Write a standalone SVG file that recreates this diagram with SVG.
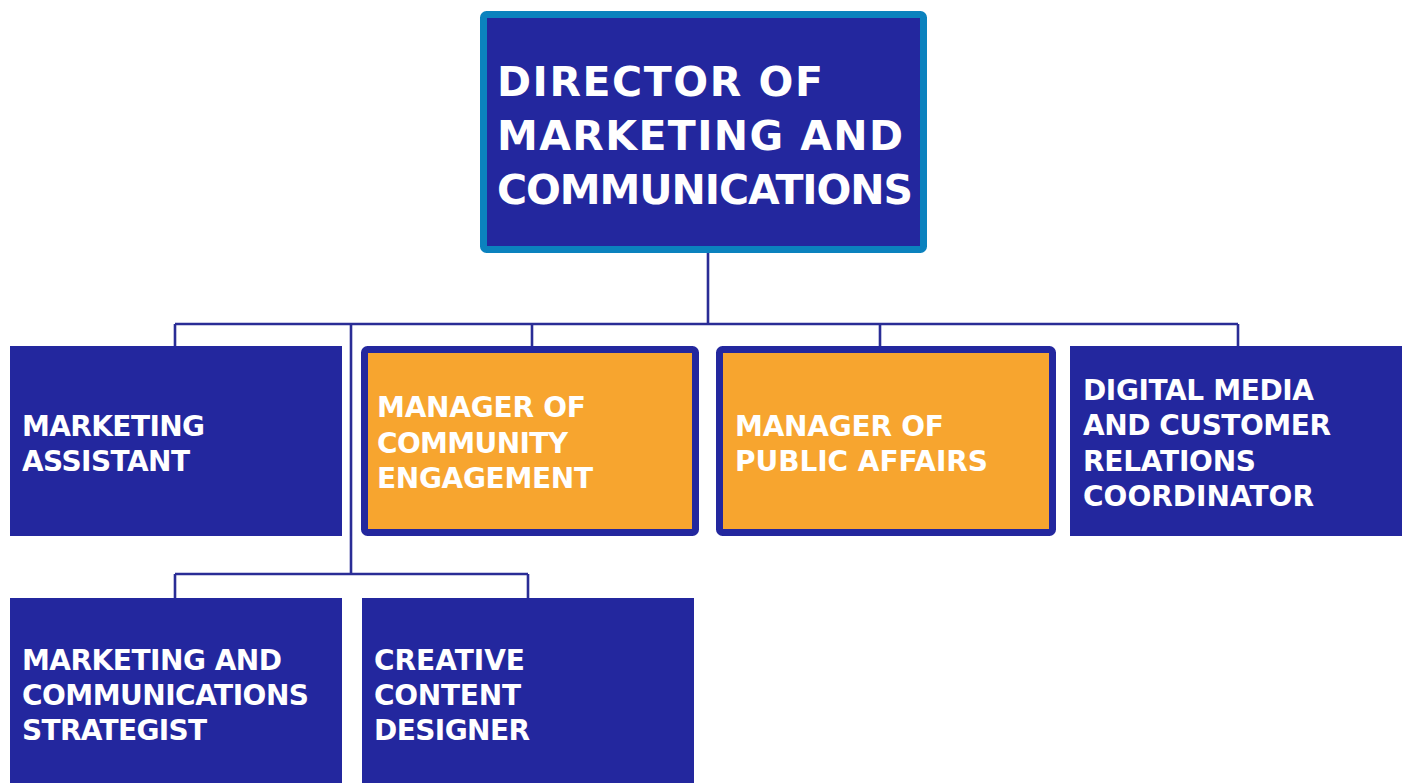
<svg xmlns="http://www.w3.org/2000/svg" width="1406" height="783" viewBox="0 0 1406 783">
<style>
.conn{stroke:#2a2d96;stroke-width:2.6;fill:none}
.navy{fill:#23279e}
.mgr{fill:#f7a52f;stroke:#23279e;stroke-width:7}
.top{fill:#23279e;stroke:#0b82be;stroke-width:7}
text{font-family:"DejaVu Sans","Liberation Sans",sans-serif;font-weight:bold;fill:#ffffff}
.t{font-size:28px}
.h{font-size:41px}
</style>
<rect width="1406" height="783" fill="#ffffff"/>
<g id="connectors">
<path class="conn" d="M708,253 V324 M175,324 H1238 M175,324 V346 M532,324 V346 M880,324 V346 M1238,324 V346"/>
<path class="conn" d="M351,324 V574 M175,574 H528 M175,574 V598 M528,574 V598"/>
</g>
<g id="director">
<rect class="top" x="483.5" y="14.5" width="440" height="235" rx="3"/>
<text class="h" x="497" y="96" textLength="326" lengthAdjust="spacing">DIRECTOR OF</text>
<text class="h" x="497" y="150" textLength="406" lengthAdjust="spacing">MARKETING AND</text>
<text class="h" x="497" y="204" textLength="416" lengthAdjust="spacing">COMMUNICATIONS</text>
</g>
<g id="marketing-assistant">
<rect class="navy" x="10" y="346" width="332" height="190"/>
<text class="t" x="22" y="436" textLength="183" lengthAdjust="spacing">MARKETING</text>
<text class="t" x="22" y="471" textLength="168" lengthAdjust="spacing">ASSISTANT</text>
</g>
<g id="manager-community">
<rect class="mgr" x="364.5" y="349.5" width="331" height="183" rx="3"/>
<text class="t" x="377" y="417" textLength="209" lengthAdjust="spacing">MANAGER OF</text>
<text class="t" x="377" y="453" textLength="191" lengthAdjust="spacing">COMMUNITY</text>
<text class="t" x="377" y="488" textLength="216" lengthAdjust="spacing">ENGAGEMENT</text>
</g>
<g id="manager-public-affairs">
<rect class="mgr" x="719.5" y="349.5" width="333" height="183" rx="3"/>
<text class="t" x="735" y="436" textLength="209" lengthAdjust="spacing">MANAGER OF</text>
<text class="t" x="735" y="471" textLength="253" lengthAdjust="spacing">PUBLIC AFFAIRS</text>
</g>
<g id="digital-media">
<rect class="navy" x="1070" y="346" width="332" height="190"/>
<text class="t" x="1083" y="400" textLength="231" lengthAdjust="spacing">DIGITAL MEDIA</text>
<text class="t" x="1083" y="435" textLength="248" lengthAdjust="spacing">AND CUSTOMER</text>
<text class="t" x="1083" y="471" textLength="173" lengthAdjust="spacing">RELATIONS</text>
<text class="t" x="1083" y="506" textLength="231" lengthAdjust="spacing">COORDINATOR</text>
</g>
<g id="strategist">
<rect class="navy" x="10" y="598" width="332" height="185"/>
<text class="t" x="22" y="670" textLength="260" lengthAdjust="spacing">MARKETING AND</text>
<text class="t" x="22" y="705" textLength="287" lengthAdjust="spacing">COMMUNICATIONS</text>
<text class="t" x="22" y="740" textLength="185" lengthAdjust="spacing">STRATEGIST</text>
</g>
<g id="creative-designer">
<rect class="navy" x="362" y="598" width="332" height="185"/>
<text class="t" x="374" y="670" textLength="151" lengthAdjust="spacing">CREATIVE</text>
<text class="t" x="374" y="705" textLength="147" lengthAdjust="spacing">CONTENT</text>
<text class="t" x="374" y="740" textLength="156" lengthAdjust="spacing">DESIGNER</text>
</g>
</svg>
